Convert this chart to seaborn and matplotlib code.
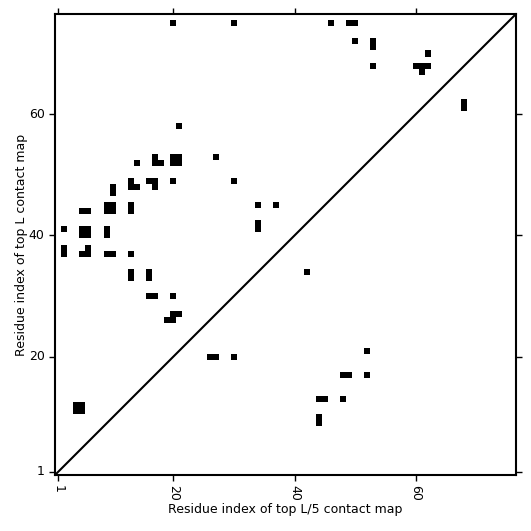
import numpy as np
import matplotlib
matplotlib.use('Agg')
import matplotlib.pyplot as plt
import seaborn as sns
from matplotlib.colors import ListedColormap

seq_len = 76

# top L contacts (upper triangle): residue i (x), residue j (y)
top_l_i = [20, 30, 46, 49, 50, 50, 53, 53, 53, 62, 60, 61, 62, 61, 68, 68,
           21, 14, 17, 17, 18, 20, 21, 20, 21, 27,
           10, 10, 13, 13, 14, 16, 17, 17, 20, 30,
           5, 6, 9, 10, 9, 10, 13, 13, 34, 37, 34, 34,
           2, 5, 6, 5, 6, 9, 9,
           2, 2, 6, 5, 6, 9, 10, 13,
           13, 13, 16, 16, 16, 17, 20, 20, 21, 19, 20,
           4, 5, 4, 5]
top_l_j = [75, 75, 75, 75, 75, 72, 72, 71, 68, 70, 68, 68, 68, 67, 62, 61,
           58, 52, 53, 52, 52, 52, 52, 53, 53, 53,
           48, 47, 49, 48, 48, 49, 49, 48, 49, 49,
           44, 44, 45, 45, 44, 44, 45, 44, 45, 45, 42, 41,
           41, 41, 41, 40, 40, 41, 40,
           38, 37, 38, 37, 37, 37, 37, 37,
           34, 33, 34, 33, 30, 30, 30, 27, 27, 26, 26,
           12, 12, 11, 11]

# top L/5 contacts (lower triangle)
top_l5_i = [42, 26, 27, 30, 52, 48, 49, 52, 44, 45, 48, 44, 44]
top_l5_j = [34, 20, 20, 20, 21, 17, 17, 17, 13, 13, 13, 10, 9]

tick_labels = ['1', '20', '40', '60']

cmap = np.zeros((seq_len, seq_len))
for i, j in zip(top_l_i + top_l5_i, top_l_j + top_l5_j):
    cmap[j - 1, i - 1] = 1

fig = plt.figure(figsize=(5.31, 5.31), dpi=100)
ax = fig.add_axes([0.1036, 0.1055, 0.868, 0.868])
sns.heatmap(cmap, cmap=ListedColormap(['white', 'black']), cbar=False,
            vmin=0, vmax=1, ax=ax)
ax.invert_yaxis()
ax.plot([0, seq_len], [0, seq_len], color='black', linewidth=1.5)
ax.set_xlim(0, seq_len)
ax.set_ylim(0, seq_len)

ticks = [int(t) - 0.5 for t in tick_labels]
ax.set_xticks(ticks)
ax.set_xticklabels(tick_labels, rotation=270, fontsize=9)
ax.set_yticks(ticks)
ax.set_yticklabels(tick_labels, rotation=0, fontsize=9)
ax.tick_params(top=True, right=True, direction='out', length=4, width=1)

for spine in ax.spines.values():
    spine.set_visible(True)
    spine.set_linewidth(1.5)
    spine.set_color('black')

ax.set_xlabel('Residue index of top L/5 contact map', fontsize=9, labelpad=1)
ax.set_ylabel('Residue index of top L contact map', fontsize=9, labelpad=0.5)

fig.savefig('out.png', dpi=100)
plt.close(fig)
